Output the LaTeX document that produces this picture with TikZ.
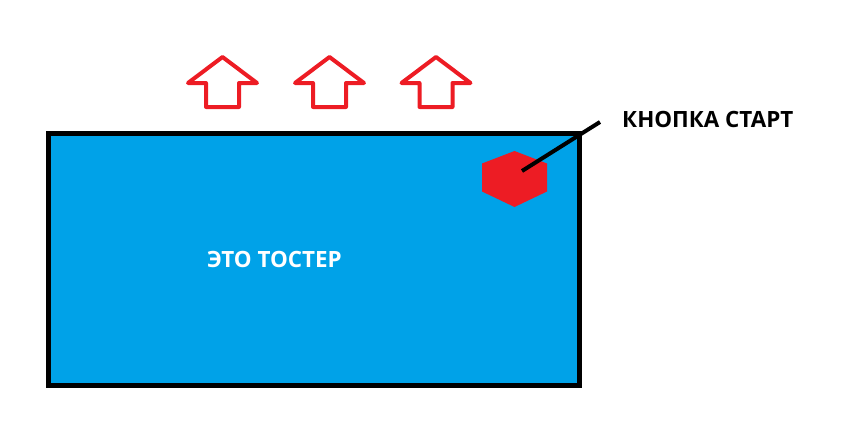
\documentclass[tikz,border=0pt]{standalone}
\usepackage{fontspec}
\setsansfont{Open Sans}
\usepackage{xcolor}

\begin{document}
\begin{tikzpicture}[x=1pt,y=-1pt]
  \definecolor{paintblue}{HTML}{00A2E8}
  \definecolor{paintred}{HTML}{ED1C24}
  \tikzset{toaster/.style={draw,line width=5pt,fill=paintblue,minimum width=530.5pt,minimum height=252pt,inner sep=0pt}}
  \tikzset{heat/.style={draw=paintred,line width=4pt,line join=round}}
  \tikzset{caption/.style={font=\sffamily\bfseries\fontsize{22.4}{22.4}\selectfont,inner sep=0pt}}
  \useasboundingbox (0,0) rectangle (851,436);
  \node[toaster] (toaster) at (313.75,259.5) {};
  \node[caption,text=white,anchor=base west] (name) at (207,267) {ЭТО ТОСТЕР};
  \foreach \x in {222.5,329.5,436}
    \draw[heat] (\x,57) -- ++(34.5,26) -- ++(-18,0) -- ++(0,24) -- ++(-33,0) -- ++(0,-24) -- ++(-18,0) -- cycle;
  \fill[paintred] (514.5,151) -- (547,163.5) -- (547,191.5) -- (514.5,207) -- (482,191.5) -- (482,163.5) -- cycle;
  \coordinate (button) at (522,171);
  \coordinate (pointer) at (600,122);
  \node[caption,anchor=base west] (start) at (622,127) {КНОПКА СТАРТ};
  \draw[line width=4pt] (button) -- (pointer);
\end{tikzpicture}
\end{document}
